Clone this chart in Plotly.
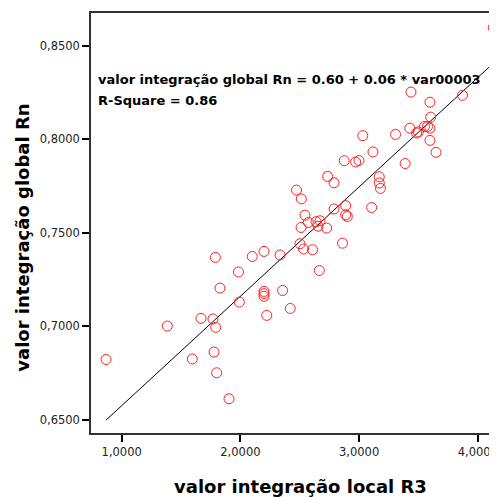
import plotly.graph_objects as go

# Values
local_r3 = [
    1.789, 1.984, 1.828, 1.991, 1.668, 1.769, 1.384, 1.792, 0.868, 1.595, 1.778, 1.800, 1.904,
    2.100, 2.199, 2.334, 2.502, 2.532, 2.607, 2.665, 2.199, 2.199, 2.199, 2.356, 2.420, 2.222,
    2.473, 2.513, 2.789, 2.789, 2.887, 2.887, 2.901, 2.544, 2.572, 2.511, 2.637, 2.671, 2.654, 2.727, 2.860,
    2.875, 2.971, 2.999, 3.117, 2.735, 3.106, 3.170, 3.170, 3.180,
    4.130, 3.437, 3.871, 3.597, 3.603, 3.551, 3.576, 3.597, 3.427, 3.484, 3.499, 3.307, 3.031, 3.597, 3.648, 3.388,
]
global_rn = [
    0.7368, 0.7290, 0.7204, 0.7129, 0.7042, 0.7039, 0.7001, 0.6994, 0.6822, 0.6825, 0.6862, 0.6751, 0.6612,
    0.7373, 0.7400, 0.7381, 0.7441, 0.7413, 0.7409, 0.7298, 0.7186, 0.7174, 0.7160, 0.7191, 0.7095, 0.7058,
    0.7728, 0.7681, 0.7767, 0.7627, 0.7645, 0.7596, 0.7587, 0.7594, 0.7555, 0.7528, 0.7559, 0.7564, 0.7535, 0.7525, 0.7444,
    0.7885, 0.7878, 0.7886, 0.7932, 0.7801, 0.7635, 0.7799, 0.7766, 0.7737,
    0.8597, 0.8252, 0.8235, 0.8198, 0.8118, 0.8068, 0.8068, 0.8059, 0.8059, 0.8033, 0.8039, 0.8026, 0.8019, 0.7994, 0.7930, 0.7870,
]
fit_intercept = 0.599
fit_slope = 0.0585

x_ticks = [1, 2, 3, 4]
y_ticks = [0.65, 0.70, 0.75, 0.80, 0.85]

x_title = "valor integração local R3"
y_title = "valor integração global Rn"
eq_text = "valor integração global Rn = 0.60 + 0.06 * var00003"
r2_text = "R-Square = 0.86"

x_line = [min(local_r3), max(local_r3)]
y_line = [fit_intercept + fit_slope * v for v in x_line]

fig = go.Figure()
fig.add_trace(go.Scatter(
    x=x_line, y=y_line, mode="lines",
    line=dict(color="black", width=1), showlegend=False, hoverinfo="skip"))
fig.add_trace(go.Scatter(
    x=local_r3, y=global_rn, mode="markers",
    marker=dict(symbol="circle-open", size=10, color="#ff2020", line=dict(width=1, color="#ff2020")),
    showlegend=False))

tick_font = dict(family="DejaVu Sans", size=11.5, color="#222")
title_font = dict(family="DejaVu Sans", size=18, color="black")

# the page body adds an 8px offset, so the figure is sized to end at the window edge
fig.update_layout(
    width=489, height=489,
    margin=dict(l=83, r=0, t=5, b=64),
    paper_bgcolor="white", plot_bgcolor="white",
    separators=",.",
    showlegend=False,
    xaxis=dict(range=[0.7414, 4.1618], tickvals=x_ticks, tickformat=".4f",
               ticks="outside", ticklen=7, tickwidth=2, tickcolor="black",
               showline=True, linecolor="#333", linewidth=1.5, mirror=True,
               showgrid=False, zeroline=False, tickfont=tick_font,
               ticklabeloverflow="allow"),
    yaxis=dict(range=[0.6429, 0.8675], tickvals=y_ticks, tickformat=".4f",
               ticks="outside", ticklen=7, tickwidth=2, tickcolor="black",
               showline=True, linecolor="#333", linewidth=1.5, mirror=False,
               showgrid=False, zeroline=False, tickfont=tick_font),
    annotations=[
        dict(text="<b>" + eq_text + "</b>", xref="paper", yref="paper", x=0.0123, y=0.8412,
             xanchor="left", yanchor="middle", showarrow=False,
             font=dict(family="DejaVu Sans", size=13, color="black")),
        dict(text="<b>" + r2_text + "</b>", xref="paper", yref="paper", x=0.0123, y=0.7924,
             xanchor="left", yanchor="middle", showarrow=False,
             font=dict(family="DejaVu Sans", size=13, color="black")),
        dict(text="<b>" + x_title + "</b>", xref="paper", yref="paper", x=0.517, y=-0.128,
             xanchor="center", yanchor="middle", showarrow=False, font=title_font),
        dict(text="<b>" + y_title + "</b>", xref="paper", yref="paper", x=-0.1675, y=0.465,
             xanchor="center", yanchor="middle", textangle=-90, showarrow=False, font=title_font),
    ],
)

fig.write_html("out.html")
